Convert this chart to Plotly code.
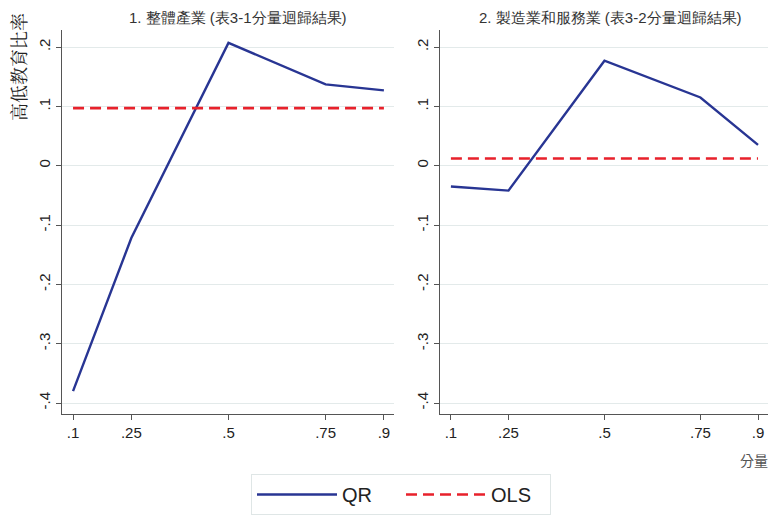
import plotly.graph_objects as go

quantiles = [0.1, 0.25, 0.5, 0.75, 0.9]
qr_all = [-0.380, -0.122, 0.207, 0.137, 0.127]
ols_all = 0.097
qr_ms = [-0.035, -0.042, 0.177, 0.115, 0.035]
ols_ms = 0.012

titles = ["1. 整體產業 (表3-1分量迴歸結果)", "2. 製造業和服務業 (表3-2分量迴歸結果)"]
ytitle = "高低教育比率"
xtitle = "分量"
ytick_vals = [-0.4, -0.3, -0.2, -0.1, 0, 0.1, 0.2]
ytick_text = ["-.4", "-.3", "-.2", "-.1", "0", ".1", ".2"]
xtick_text = [".1", ".25", ".5", ".75", ".9"]

W, H = 771, 515
NAVY = "#283593"
RED = "#e8212b"
GRID = "#e3eaea"
AX = "#555555"
FONT = "Liberation Sans, Arial, sans-serif"
DASH = "11px,6px"

fig = go.Figure()
fig.add_trace(go.Scatter(x=quantiles, y=qr_all, mode="lines", name="QR",
                         line=dict(color=NAVY, width=2.4), xaxis="x", yaxis="y"))
fig.add_trace(go.Scatter(x=[quantiles[0], quantiles[-1]], y=[ols_all, ols_all], mode="lines",
                         name="OLS", line=dict(color=RED, width=2.6, dash=DASH),
                         xaxis="x", yaxis="y"))
fig.add_trace(go.Scatter(x=quantiles, y=qr_ms, mode="lines", name="QR", showlegend=False,
                         line=dict(color=NAVY, width=2.4), xaxis="x2", yaxis="y2"))
fig.add_trace(go.Scatter(x=[quantiles[0], quantiles[-1]], y=[ols_ms, ols_ms], mode="lines",
                         name="OLS", showlegend=False,
                         line=dict(color=RED, width=2.6, dash=DASH), xaxis="x2", yaxis="y2"))

ydom = [1 - 414 / H, 1 - 30 / H]
yrange = [-0.4185, 0.2287]
xrange = [0.0716, 0.926]

common_x = dict(range=xrange, tickvals=quantiles, ticktext=xtick_text, showgrid=False,
                showline=True, linecolor=AX, linewidth=1, ticks="outside", ticklen=5,
                tickcolor=AX, tickfont=dict(size=15, color="#222", family=FONT),
                zeroline=False, fixedrange=True)
common_y = dict(range=yrange, tickvals=ytick_vals, ticktext=ytick_text, showgrid=True,
                gridcolor=GRID, gridwidth=1, showline=True, linecolor=AX, linewidth=1,
                ticks="outside", ticklen=5, tickcolor=AX, tickangle=-90,
                tickfont=dict(size=15, color="#222", family=FONT), zeroline=False,
                domain=ydom, fixedrange=True)

fig.update_layout(
    width=W, height=H,
    margin=dict(l=0, r=0, t=0, b=0),
    paper_bgcolor="white", plot_bgcolor="white",
    font=dict(family=FONT, color="#222"),
    xaxis=dict(domain=[62 / W, 394 / W], anchor="y", **common_x),
    yaxis=dict(anchor="x", **common_y),
    xaxis2=dict(domain=[440 / W, 768 / W], anchor="y2", **common_x),
    yaxis2=dict(anchor="x2", **common_y),
    showlegend=True,
    legend=dict(orientation="h", x=401 / W, xanchor="center", y=1 - 474 / H, yanchor="top",
                bordercolor="#dfe6e6", borderwidth=1, bgcolor="white",
                font=dict(size=20, color="#222", family=FONT), itemwidth=80,
                entrywidth=54),
    annotations=[
        dict(text=titles[0], x=238 / W, y=1 - 17 / H, xref="paper", yref="paper",
             showarrow=False, font=dict(size=15, color="#333", family=FONT),
             xanchor="center", yanchor="middle"),
        dict(text=titles[1], x=610 / W, y=1 - 17 / H, xref="paper", yref="paper",
             showarrow=False, font=dict(size=15, color="#333", family=FONT),
             xanchor="center", yanchor="middle"),
        dict(text=ytitle, x=18 / W, y=1 - 67 / H, xref="paper", yref="paper", textangle=-90,
             showarrow=False, font=dict(size=18, color="#222", family="Noto Serif CJK TC, Noto Sans CJK TC"),
             xanchor="center", yanchor="middle"),
        dict(text=xtitle, x=770 / W, y=1 - 460 / H, xref="paper", yref="paper",
             showarrow=False, font=dict(size=14, color="#555", family="Noto Sans CJK TC"),
             xanchor="right", yanchor="middle"),
    ],
)

fig.write_html("out.html", config={"displayModeBar": False},
               post_script="document.body.style.margin='0';document.body.style.padding='0';document.body.style.overflow='hidden';")
